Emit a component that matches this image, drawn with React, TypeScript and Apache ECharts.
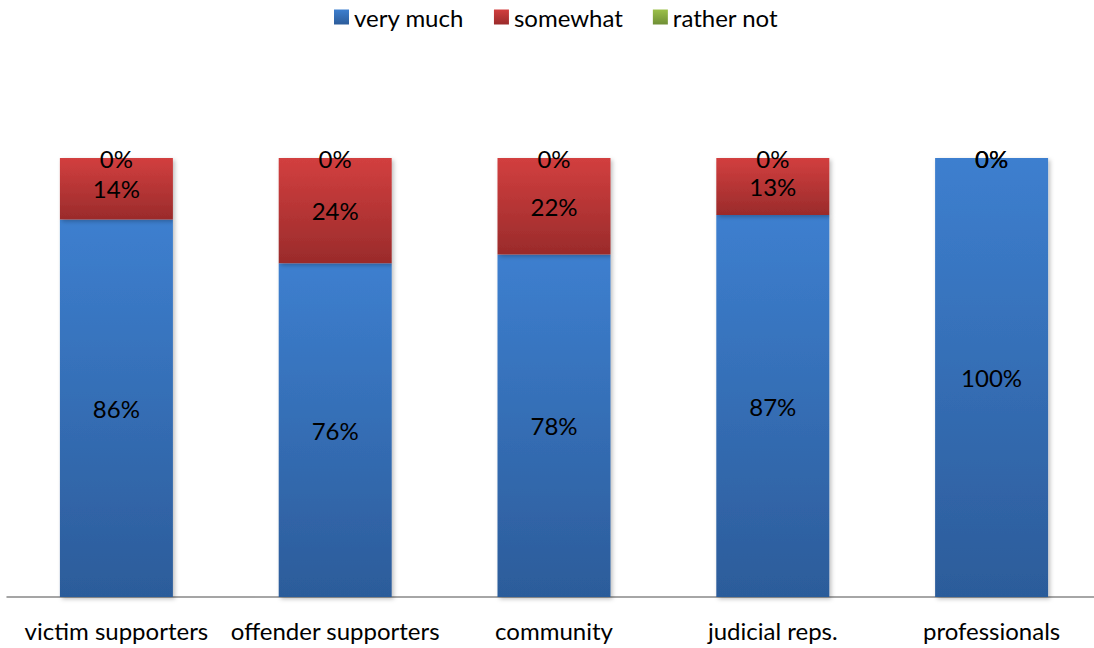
import React, { useEffect, useRef } from "react";
import * as echarts from "echarts";

const categories = ["victim supporters", "offender supporters", "community", "judicial reps.", "professionals"];
const veryMuch = [86, 76, 78, 87, 100];
const somewhat = [14, 24, 22, 13, 0];
const ratherNot = [0, 0, 0, 0, 0];

const FONT = "Lato, 'Open Sans', sans-serif";
const FS = 24;

const grad = (top: string, bottom: string) =>
  new echarts.graphic.LinearGradient(0, 0, 0, 1, [
    { offset: 0, color: top },
    { offset: 1, color: bottom },
  ]);

export default function App() {
  const ref = useRef<HTMLDivElement>(null);
  useEffect(() => {
    if (!ref.current) return;
    const chart = echarts.init(ref.current, null, { renderer: "svg" });
    const label = {
      show: true,
      position: "inside" as const,
      formatter: (p: any) => `${p.value}%`,
      color: "#000",
      fontSize: FS,
      fontFamily: FONT,
    };
    const shadow = {
      shadowBlur: 4,
      shadowOffsetX: 2,
      shadowOffsetY: 2,
      shadowColor: "rgba(0,0,0,0.25)",
    };
    chart.setOption({
      animation: false,
      legend: {
        top: 0,
        left: 329,
        itemWidth: 15,
        itemHeight: 15,
        itemGap: 30,
        icon: "rect",
        textStyle: { fontSize: FS, fontFamily: FONT, color: "#000" },
        data: ["very much", "somewhat", "rather not"],
      },
      grid: { left: 7, width: 1094, top: 158, height: 439, containLabel: false },
      xAxis: {
        type: "category",
        data: categories,
        axisLine: { lineStyle: { color: "#888", width: 1.5 } },
        axisTick: { show: false },
        axisLabel: { fontSize: FS, fontFamily: FONT, color: "#000", margin: 21, interval: 0 },
      },
      yAxis: {
        type: "value",
        min: 0,
        max: 100,
        show: false,
        splitLine: { show: false },
      },
      series: [
        {
          name: "very much",
          type: "bar",
          stack: "a",
          barWidth: 113,
          data: veryMuch,
          label,
          itemStyle: { color: grad("#3d7fcf", "#2c5c9a"), ...shadow },
        },
        {
          name: "somewhat",
          type: "bar",
          stack: "a",
          data: somewhat,
          label,
          itemStyle: { color: grad("#d23f3f", "#9a2b2b"), ...shadow },
        },
        {
          name: "rather not",
          type: "bar",
          stack: "a",
          data: ratherNot,
          label,
          itemStyle: { color: grad("#9cc04a", "#6f8f35"), ...shadow },
        },
      ],
    });
    return () => chart.dispose();
  }, []);
  return (
    <div style={{ position: "fixed", left: 0, top: 0, width: 1094, height: 648, overflow: "hidden", background: "#fff" }}>
      <div ref={ref} style={{ width: 1110, height: 648 }} />
    </div>
  );
}
